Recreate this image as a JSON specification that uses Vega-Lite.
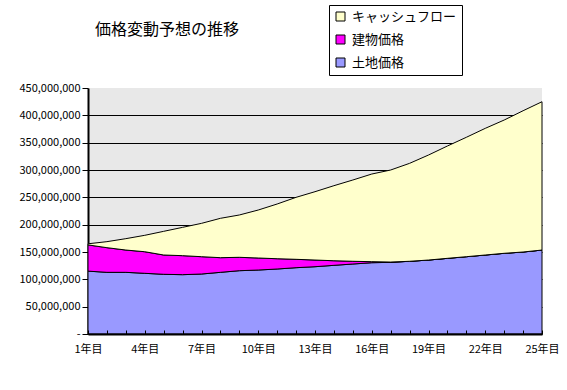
{
  "$schema": "https://vega.github.io/schema/vega-lite/v6.json",
  "width": 454,
  "height": 246,
  "autosize": "none",
  "padding": {"left": 88, "top": 88, "right": 25, "bottom": 56},
  "background": "white",
  "title": {
    "text": "価格変動予想の推移",
    "anchor": "start",
    "frame": "group",
    "dx": 7,
    "dy": 43,
    "offset": 10,
    "fontSize": 16,
    "font": "Noto Sans CJK JP",
    "fontWeight": "normal",
    "color": "black"
  },
  "config": {
    "view": {"fill": "#E8E8E8", "stroke": null},
    "font": "Noto Sans CJK JP"
  },
  "data": {
    "values": [
      {"year": 1, "series": "土地価格", "value": 115000000},
      {"year": 1, "series": "建物価格", "value": 48000000},
      {"year": 1, "series": "キャッシュフロー", "value": 2000000},
      {"year": 2, "series": "土地価格", "value": 112800000},
      {"year": 2, "series": "建物価格", "value": 45100000},
      {"year": 2, "series": "キャッシュフロー", "value": 11000000},
      {"year": 3, "series": "土地価格", "value": 112800000},
      {"year": 3, "series": "建物価格", "value": 40800000},
      {"year": 3, "series": "キャッシュフロー", "value": 20800000},
      {"year": 4, "series": "土地価格", "value": 111000000},
      {"year": 4, "series": "建物価格", "value": 39500000},
      {"year": 4, "series": "キャッシュフロー", "value": 30000000},
      {"year": 5, "series": "土地価格", "value": 109200000},
      {"year": 5, "series": "建物価格", "value": 35300000},
      {"year": 5, "series": "キャッシュフロー", "value": 43300000},
      {"year": 6, "series": "土地価格", "value": 108500000},
      {"year": 6, "series": "建物価格", "value": 34800000},
      {"year": 6, "series": "キャッシュフロー", "value": 51800000},
      {"year": 7, "series": "土地価格", "value": 109700000},
      {"year": 7, "series": "建物価格", "value": 31700000},
      {"year": 7, "series": "キャッシュフロー", "value": 61000000},
      {"year": 8, "series": "土地価格", "value": 112800000},
      {"year": 8, "series": "建物価格", "value": 26800000},
      {"year": 8, "series": "キャッシュフロー", "value": 72000000},
      {"year": 9, "series": "土地価格", "value": 115800000},
      {"year": 9, "series": "建物価格", "value": 24500000},
      {"year": 9, "series": "キャッシュフロー", "value": 77400000},
      {"year": 10, "series": "土地価格", "value": 117000000},
      {"year": 10, "series": "建物価格", "value": 22000000},
      {"year": 10, "series": "キャッシュフロー", "value": 87800000},
      {"year": 11, "series": "土地価格", "value": 118900000},
      {"year": 11, "series": "建物価格", "value": 18800000},
      {"year": 11, "series": "キャッシュフロー", "value": 100100000},
      {"year": 12, "series": "土地価格", "value": 121300000},
      {"year": 12, "series": "建物価格", "value": 15300000},
      {"year": 12, "series": "キャッシュフロー", "value": 113400000},
      {"year": 13, "series": "土地価格", "value": 123100000},
      {"year": 13, "series": "建物価格", "value": 12200000},
      {"year": 13, "series": "キャッシュフロー", "value": 125000000},
      {"year": 14, "series": "土地価格", "value": 125600000},
      {"year": 14, "series": "建物価格", "value": 8400000},
      {"year": 14, "series": "キャッシュフロー", "value": 137300000},
      {"year": 15, "series": "土地価格", "value": 128000000},
      {"year": 15, "series": "建物価格", "value": 5000000},
      {"year": 15, "series": "キャッシュフロー", "value": 148700000},
      {"year": 16, "series": "土地価格", "value": 130400000},
      {"year": 16, "series": "建物価格", "value": 1900000},
      {"year": 16, "series": "キャッシュフロー", "value": 160300000},
      {"year": 17, "series": "土地価格", "value": 131100000},
      {"year": 17, "series": "建物価格", "value": 500000},
      {"year": 17, "series": "キャッシュフロー", "value": 168400000},
      {"year": 18, "series": "土地価格", "value": 133000000},
      {"year": 18, "series": "建物価格", "value": 0},
      {"year": 18, "series": "キャッシュフロー", "value": 179200000},
      {"year": 19, "series": "土地価格", "value": 135300000},
      {"year": 19, "series": "建物価格", "value": 0},
      {"year": 19, "series": "キャッシュフロー", "value": 192100000},
      {"year": 20, "series": "土地価格", "value": 138400000},
      {"year": 20, "series": "建物価格", "value": 0},
      {"year": 20, "series": "キャッシュフロー", "value": 205500000},
      {"year": 21, "series": "土地価格", "value": 141400000},
      {"year": 21, "series": "建物価格", "value": 0},
      {"year": 21, "series": "キャッシュフロー", "value": 218400000},
      {"year": 22, "series": "土地価格", "value": 144500000},
      {"year": 22, "series": "建物価格", "value": 0},
      {"year": 22, "series": "キャッシュフロー", "value": 231700000},
      {"year": 23, "series": "土地価格", "value": 147600000},
      {"year": 23, "series": "建物価格", "value": 0},
      {"year": 23, "series": "キャッシュフロー", "value": 243800000},
      {"year": 24, "series": "土地価格", "value": 150000000},
      {"year": 24, "series": "建物価格", "value": 0},
      {"year": 24, "series": "キャッシュフロー", "value": 258400000},
      {"year": 25, "series": "土地価格", "value": 153600000},
      {"year": 25, "series": "建物価格", "value": 0},
      {"year": 25, "series": "キャッシュフロー", "value": 271300000}
    ]
  },
  "transform": [
    {"calculate": "indexof(['土地価格','建物価格','キャッシュフロー'], datum.series)", "as": "k"}
  ],
  "mark": {"type": "area", "stroke": "black", "strokeWidth": 1, "interpolate": "linear", "opacity": 1},
  "encoding": {
    "x": {
      "field": "year",
      "type": "quantitative",
      "scale": {"domain": [1, 25], "nice": false, "zero": false},
      "axis": {
        "title": null,
        "values": [1,2,3,4,5,6,7,8,9,10,11,12,13,14,15,16,17,18,19,20,21,22,23,24,25],
        "labelExpr": "(datum.value - 1) % 3 == 0 ? datum.value + '年目' : ''",
        "labelFontSize": 11,
        "labelColor": "black",
        "labelAngle": 0,
        "labelFlush": false,
        "labelOverlap": false,
        "labelPadding": 13,
        "tickSize": -4,
        "tickColor": "black",
        "domainColor": "black",
        "domainWidth": 2,
        "grid": false,
        "zindex": 1
      }
    },
    "y": {
      "field": "value",
      "type": "quantitative",
      "stack": "zero",
      "scale": {"domain": [0, 450000000], "nice": false},
      "axis": {
        "title": null,
        "values": [0, 50000000, 100000000, 150000000, 200000000, 250000000, 300000000, 350000000, 400000000, 450000000],
        "labelExpr": "datum.value == 0 ? '-' : format(datum.value, ',')",
        "labelFontSize": 11,
        "labelColor": "black",
        "labelPadding": 2,
        "tickSize": 6,
        "tickColor": "black",
        "domainColor": "black",
        "domainWidth": 2,
        "grid": true,
        "gridColor": "black",
        "gridWidth": 1,
        "gridOpacity": {"condition": {"test": "datum.value >= 450000000", "value": 0}, "value": 1}
      }
    },
    "color": {
      "field": "series",
      "type": "nominal",
      "scale": {
        "domain": ["キャッシュフロー", "建物価格", "土地価格"],
        "range": ["#FFFFCC", "#FF00FF", "#9999FF"]
      },
      "legend": {
        "orient": "none",
        "legendX": 241,
        "legendY": -83,
        "title": null,
        "direction": "vertical",
        "symbolType": "square",
        "symbolSize": 81,
        "symbolStrokeColor": "black",
        "symbolStrokeWidth": 1,
        "symbolOpacity": 1,
        "labelFontSize": 13,
        "labelColor": "black",
        "labelOffset": 5,
        "strokeColor": "black",
        "fillColor": "white",
        "padding": 5,
        "rowPadding": 9
      }
    },
    "order": {"field": "k", "type": "quantitative"}
  }
}
